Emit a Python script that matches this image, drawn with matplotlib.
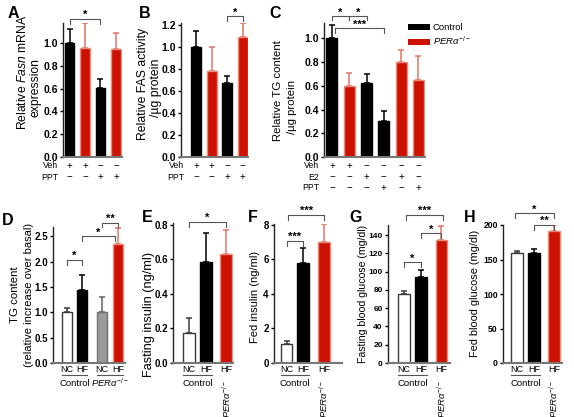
import matplotlib
matplotlib.use("Agg")
import matplotlib.pyplot as plt
from matplotlib.transforms import blended_transform_factory

plt.rcParams['font.family'] = ['Liberation Sans', 'DejaVu Sans']
plt.rcParams['mathtext.fontset'] = 'custom'
plt.rcParams['mathtext.rm'] = 'Liberation Sans'
plt.rcParams['mathtext.it'] = 'Liberation Sans:italic'
plt.rcParams['mathtext.bf'] = 'Liberation Sans:bold'

PER = r"$\mathit{PER\alpha}^{-/-}$"

# ---- data ----
a_mean = [1.0, 0.955, 0.605, 0.945]
a_err = [0.12, 0.22, 0.08, 0.145]
b_mean = [1.0, 0.78, 0.67, 1.09]
b_err = [0.145, 0.22, 0.066, 0.13]
c_mean = [1.0, 0.60, 0.62, 0.30, 0.80, 0.65]
c_err = [0.11, 0.11, 0.08, 0.09, 0.10, 0.20]
d_mean = [1.0, 1.44, 1.0, 2.35]
d_err = [0.08, 0.30, 0.30, 0.32]
e_mean = [0.174, 0.585, 0.63]
e_err = [0.086, 0.17, 0.14]
f_mean = [1.08, 5.81, 7.0]
f_err = [0.2, 0.84, 1.04]
g_mean = [75, 94.3, 135]
g_err = [4, 7.3, 15]
h_mean = [159, 159, 192]
h_err = [4, 6, 8]

veh = [1, 1, 0, 0]
ppt = [0, 0, 1, 1]
c_veh = [1, 1, 0, 0, 0, 0]
c_e2 = [0, 0, 1, 0, 1, 0]
c_ppt = [0, 0, 0, 1, 0, 1]
diet4 = ["NC", "HF", "NC", "HF"]
diet3 = ["NC", "HF", "HF"]

W, H = 574, 417
fig = plt.figure(figsize=(W / 100, H / 100), dpi=100)

RED = '#CC1100'
RED_EDGE = '#EC8C7C'
RED_ERR = '#E07564'
BAR_STYLE = {
    'k': ('#000000', '#000000', '#000000'),
    'r': (RED, RED_EDGE, RED_ERR),
    'w': ('#FFFFFF', '#3A3A3A', '#3A3A3A'),
    'g': ('#9A9A9A', '#707070', '#606060'),
}


def add_ax(l, t, r, b):
    ax = fig.add_axes([l / W, 1 - b / H, (r - l) / W, (b - t) / H])
    ax.hpx = b - t
    ax.bt = blended_transform_factory(ax.transData, ax.transAxes)
    return ax


def bars(ax, pos, mean, err, kinds, width, ylim, yticks, fmt, tsize=7.5):
    for p, m, e, k in zip(pos, mean, err, kinds):
        fc, ec, erc = BAR_STYLE[k]
        ax.bar(p, m, width, color=fc, edgecolor=ec, linewidth=1, zorder=2)
        ax.errorbar(p, m, yerr=[[0], [e]], fmt='none', ecolor=erc,
                    elinewidth=1.1, capsize=2.3, capthick=1.1, zorder=1)
    ax.set_ylim(*ylim)
    ax.set_yticks(yticks)
    ax.set_yticklabels([fmt.format(t) for t in yticks], fontweight='bold')
    ax.set_xticks([])
    for s in ['top', 'right']:
        ax.spines[s].set_visible(False)
    ax.spines['left'].set_color('#222222')
    ax.spines['left'].set_linewidth(1)
    ax.spines['bottom'].set_color('#777777')
    ax.spines['bottom'].set_linewidth(1.5)
    ax.tick_params(axis='y', length=2.5, width=1, labelsize=tsize, pad=1.2)


def bracket(ax, x1, x2, y, text, leg=5):
    d = leg / ax.hpx * (ax.get_ylim()[1] - ax.get_ylim()[0])
    ax.plot([x1, x1, x2, x2], [y - d, y, y, y - d], color='#555555',
            lw=0.8, clip_on=False)
    ax.text((x1 + x2) / 2, y + d * 0.15, text, ha='center', va='baseline',
            fontsize=8, fontweight='bold', clip_on=False)


def rows(ax, pos, table):
    for k, (name, signs) in enumerate(table):
        yy = -(9 + 11 * k) / ax.hpx
        ax.text(pos[0] - 0.75, yy, name, transform=ax.bt, ha='right',
                va='center', fontsize=6.3)
        for p, s in zip(pos, signs):
            ax.text(p, yy, '+' if s else '\u2212', transform=ax.bt,
                    ha='center', va='center', fontsize=7)


def groups(ax, pos, diets, width, per_rotated):
    y1 = -6 / ax.hpx
    y2 = -11.5 / ax.hpx
    y3 = -20 / ax.hpx
    for p, d in zip(pos, diets):
        ax.text(p, y1, d, transform=ax.bt, ha='center', va='center', fontsize=6.5)
    ax.plot([pos[0] - width / 2, pos[1] + width / 2], [y2, y2], transform=ax.bt,
            color='#555555', lw=0.8, clip_on=False)
    ax.text((pos[0] + pos[1]) / 2, y3, "Control", transform=ax.bt,
            ha='center', va='center', fontsize=6.8)
    if per_rotated:
        ax.text(pos[2], -17 / ax.hpx, PER, transform=ax.bt, rotation=90,
                ha='center', va='top', fontsize=6.8)
    else:
        ax.plot([pos[2] - width / 2, pos[3] + width / 2], [y2, y2],
                transform=ax.bt, color='#555555', lw=0.8, clip_on=False)
        ax.text((pos[2] + pos[3]) / 2, y3, PER, transform=ax.bt,
                ha='center', va='center', fontsize=6.8)


def ftext(x, y, s, **kw):
    fig.text(x / W, 1 - y / H, s, **kw)


# ---- A ----
ax = add_ax(63, 23, 122, 157)
pos = [0, 1, 2, 3]
bars(ax, pos, a_mean, a_err, 'krkr', 0.6, (0, 1.175),
     [0, 0.2, 0.4, 0.6, 0.8, 1.0], '{:.1f}')
ax.set_xlim(-0.42, 3.39)
rows(ax, pos, [("Veh", veh), ("PPT", ppt)])
bracket(ax, 0, 2, 1.21, '*')

# ---- B ----
ax = add_ax(181, 23, 248, 157)
bars(ax, pos, b_mean, b_err, 'krkr', 0.65, (0, 1.22),
     [0, 0.2, 0.4, 0.6, 0.8, 1.0, 1.2], '{:.1f}')
ax.set_xlim(-0.97, 3.35)
rows(ax, pos, [("Veh", veh), ("PPT", ppt)])
bracket(ax, 2, 3, 1.28, '*')

# ---- C ----
ax = add_ax(324, 23, 425, 157)
pos6 = [0, 1, 2, 3, 4, 5]
bars(ax, pos6, c_mean, c_err, 'krkkrr', 0.64, (0, 1.13),
     [0, 0.2, 0.4, 0.6, 0.8, 1.0], '{:.1f}')
ax.set_xlim(-0.46, 5.38)
rows(ax, pos6, [("Veh", c_veh), ("E2", c_e2), ("PPT", c_ppt)])
bracket(ax, 0, 1, 1.185, '*', leg=4)
bracket(ax, 1, 2, 1.185, '*', leg=4)
bracket(ax, 0.17, 3, 1.084, '***', leg=5)
ax.legend(handles=[plt.Rectangle((0, 0), 1, 1, fc='black'),
                   plt.Rectangle((0, 0), 1, 1, fc=RED)],
          labels=["Control", PER], loc='upper left', frameon=False,
          bbox_to_anchor=(408 / W, 1 - 23 / H), bbox_transform=fig.transFigure,
          fontsize=6.8, handlelength=2.3, handleheight=0.6,
          handletextpad=0.3, labelspacing=0.25, borderpad=0, borderaxespad=0)

# ---- D ----
ax = add_ax(53, 227, 125, 363)
posd = [0, 1, 2.33, 3.43]
bars(ax, posd, d_mean, d_err, 'wkgr', 0.67, (0, 2.68),
     [0, 0.5, 1.0, 1.5, 2.0, 2.5], '{:.1f}', tsize=7)
ax.set_xlim(-0.93, 3.87)
groups(ax, posd, diet4, 0.67, False)
bracket(ax, 0, 1, 2.03, '*')
bracket(ax, 1, 3.2, 2.5, '*')
bracket(ax, 2.33, 3.43, 2.76, '**', leg=4)

# ---- E ----
pos3 = [0, 1, 2.2]
ax = add_ax(173, 223, 233, 363)
bars(ax, pos3, e_mean, e_err, 'wkr', 0.7, (0, 0.81),
     [0, 0.2, 0.4, 0.6, 0.8], '{:.1f}', tsize=7)
ax.set_xlim(-0.94, 2.59)
groups(ax, pos3, diet3, 0.7, True)
bracket(ax, 0, 2.2, 0.817, '*')

# ---- F ----
ax = add_ax(274, 224, 342, 363)
posf = [0, 1, 2.27]
bars(ax, posf, f_mean, f_err, 'wkr', 0.7, (0, 8.05), [0, 2, 4, 6, 8], '{:d}',
     tsize=7)
ax.set_xlim(-0.76, 3.36)
groups(ax, posf, diet3, 0.7, True)
bracket(ax, 0, 1, 7.07, '***')
bracket(ax, 0.1, 2.27, 8.58, '***')

# ---- G ----
ax = add_ax(388, 225, 450, 363)
bars(ax, pos3, g_mean, g_err, 'wkr', 0.7, (0, 151),
     [0, 20, 40, 60, 80, 100, 120, 140], '{:d}', tsize=6)
ax.set_xlim(-0.94, 2.7)
groups(ax, pos3, diet3, 0.7, True)
bracket(ax, 0, 1, 110, '*')
bracket(ax, 1, 2.2, 142, '*')
bracket(ax, 0.1, 2.3, 162, '***')

# ---- H ----
ax = add_ax(503, 225, 562, 363)
posh = [0, 1, 2.18]
bars(ax, posh, h_mean, h_err, 'wkr', 0.7, (0, 200), [0, 50, 100, 150, 200],
     '{:d}', tsize=6.2)
ax.set_xlim(-0.82, 2.65)
groups(ax, posh, diet3, 0.7, True)
bracket(ax, 1, 2.18, 200, '**')
bracket(ax, -0.1, 2.18, 217, '*')

# ---- y labels ----
ylabels = [
    (23, 72, "Relative $\\mathit{Fasn}$ mRNA", 8.7),
    (36, 88, "expression", 8.7),
    (143, 84, "Relative FAS activity", 8.8),
    (156, 88, "/\u00b5g protein", 8.8),
    (278, 91, "Relative TG content", 8.2),
    (292, 107, "/\u00b5g protein", 8.2),
    (15, 295, "TG content", 8.2),
    (29, 295, "(relative increase over basal)", 8),
    (149, 314, "Fasting insulin (ng/ml)", 9.2),
    (255, 297, "Fed insulin (ng/ml)", 8),
    (363, 294, "Fasting blood glucose (mg/dl)", 7.6),
    (475, 293, "Fed blood glucose (mg/dl)", 7.9),
]
for x, y, s, fs in ylabels:
    ftext(x, y, s, rotation=90, ha='center', va='center', fontsize=fs)

# ---- panel letters ----
letters = [("A", 13, 13), ("B", 145, 13), ("C", 275, 13), ("D", 8, 220),
           ("E", 147, 218), ("F", 253, 218), ("G", 356, 218), ("H", 470, 218)]
for s, x, y in letters:
    ftext(x, y, s, ha='center', va='center', fontsize=11.5, fontweight='bold')

fig.savefig("out.png", dpi=100)
